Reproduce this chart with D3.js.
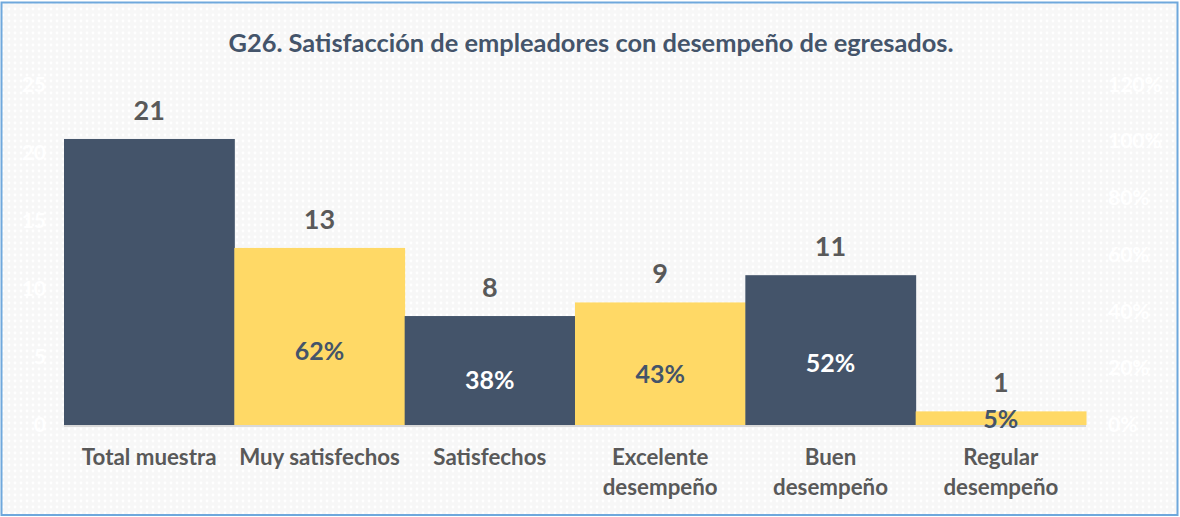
<!DOCTYPE html>
<html>
<head>
<meta charset="utf-8">
<title>G26</title>
<script src="https://d3js.org/d3.v7.min.js"></script>
<style>
  body { margin: 0; background: #fff; }
  svg { display: block; font-family: Lato, "Open Sans", sans-serif; }
</style>
</head>
<body>
<div id="chart"></div>
<script>
const categories = ["Total muestra", "Muy satisfechos", "Satisfechos", "Excelente desempeño", "Buen desempeño", "Regular desempeño"];
const counts = [21, 13, 8, 9, 11, 1];
const percents = [null, 0.62, 0.38, 0.43, 0.52, 0.05];
const leftTicks = [0, 5, 10, 15, 20, 25];
const rightTicks = [0, 0.2, 0.4, 0.6, 0.8, 1.0, 1.2];
const title = "G26. Satisfacción de empleadores con desempeño de egresados.";

const w = 1180, h = 517;
const dark = "#44546A", yellow = "#FFD966", gray = "#595959";

const svg = d3.select("#chart").append("svg")
  .attr("width", w).attr("height", h);

// dotted background
const defs = svg.append("defs");
const pat = defs.append("pattern")
  .attr("id", "dots").attr("width", 6).attr("height", 6)
  .attr("patternUnits", "userSpaceOnUse");
pat.append("rect").attr("width", 6).attr("height", 6).attr("fill", "#f7f7f7");
pat.append("circle").attr("cx", 3).attr("cy", 3).attr("r", 1.4).attr("fill", "#ffffff");

svg.append("rect")
  .attr("x", 1.5).attr("y", 2.5).attr("width", w - 4).attr("height", h - 4.5)
  .attr("fill", "url(#dots)")
  .attr("stroke", "#6FA8DC").attr("stroke-width", 2);

// title
svg.append("text")
  .attr("x", 591).attr("y", 52)
  .attr("text-anchor", "middle")
  .style("font-size", "25.4px").style("font-weight", "bold")
  .style("fill", dark)
  .text(title);

// scales
const x = d3.scaleBand().domain(categories).range([64, 1086]).padding(0);
const y = d3.scaleLinear().domain([0, 25]).range([425, 84.5]);
const yRight = d3.scaleLinear().domain([0, 1.2]).range([425, 84.5]);
// label placement for the percentage labels inside the bars
const yPct = d3.scaleLinear().domain([0, 1]).range([425, 305.5]);

// faint axes (white labels, no lines)
const leftAxis = svg.append("g")
  .attr("transform", "translate(46,0)")
  .call(d3.axisLeft(y).tickValues(leftTicks).tickSize(0).tickPadding(0));
const rightAxis = svg.append("g")
  .attr("transform", "translate(1108,0)")
  .call(d3.axisRight(yRight).tickValues(rightTicks).tickFormat(d3.format(".0%")).tickSize(0).tickPadding(0));
[leftAxis, rightAxis].forEach(a => {
  a.select(".domain").remove();
  a.selectAll("text")
    .style("font-size", "21px").style("font-weight", "bold")
    .style("font-family", "Lato, sans-serif")
    .attr("fill", "#ffffff");
});

// bars
svg.selectAll("rect.bar")
  .data(counts)
  .enter()
  .append("rect")
  .attr("class", "bar")
  .attr("x", (d, i) => x(categories[i]))
  .attr("y", d => y(d))
  .attr("width", x.bandwidth() + 0.5)
  .attr("height", d => y(0) - y(d))
  .attr("fill", (d, i) => i % 2 === 0 ? dark : yellow);

// baseline
svg.append("line")
  .attr("x1", x.range()[0]).attr("x2", x.range()[1])
  .attr("y1", y(0) + 1).attr("y2", y(0) + 1)
  .attr("stroke", "#d9d9d9").attr("stroke-width", 2);

// count labels
svg.selectAll("text.count")
  .data(counts)
  .enter()
  .append("text")
  .attr("class", "count")
  .attr("x", (d, i) => x(categories[i]) + x.bandwidth() / 2)
  .attr("y", d => y(d) - 19)
  .attr("text-anchor", "middle")
  .style("font-size", "27px").style("font-weight", "bold")
  .style("fill", gray)
  .text(d => d);

// percentage labels
const pctData = percents.map((p, i) => ({ p, i })).filter(d => d.p !== null);
svg.selectAll("text.pct")
  .data(pctData)
  .enter()
  .append("text")
  .attr("class", "pct")
  .attr("x", d => x(categories[d.i]) + x.bandwidth() / 2)
  .attr("y", d => yPct(d.p))
  .attr("dy", "0.36em")
  .attr("text-anchor", "middle")
  .style("font-size", "25px").style("font-weight", "bold")
  .style("fill", d => d.i % 2 === 0 ? "#ffffff" : dark)
  .text(d => d3.format(".0%")(d.p));

// category labels
const cat = svg.selectAll("text.cat")
  .data(categories)
  .enter()
  .append("text")
  .attr("class", "cat")
  .attr("x", d => x(d) + x.bandwidth() / 2)
  .attr("y", 465)
  .attr("text-anchor", "middle")
  .style("font-size", "22.3px").style("font-weight", "bold")
  .style("fill", gray);

cat.each(function(d) {
  const words = d.split(" ");
  const lines = (d === "Total muestra" || d === "Muy satisfechos") ? [d] : words;
  d3.select(this).selectAll("tspan")
    .data(lines)
    .enter()
    .append("tspan")
    .attr("x", x(d) + x.bandwidth() / 2)
    .attr("dy", (l, j) => j === 0 ? 0 : 30)
    .text(l => l);
});
</script>
</body>
</html>
